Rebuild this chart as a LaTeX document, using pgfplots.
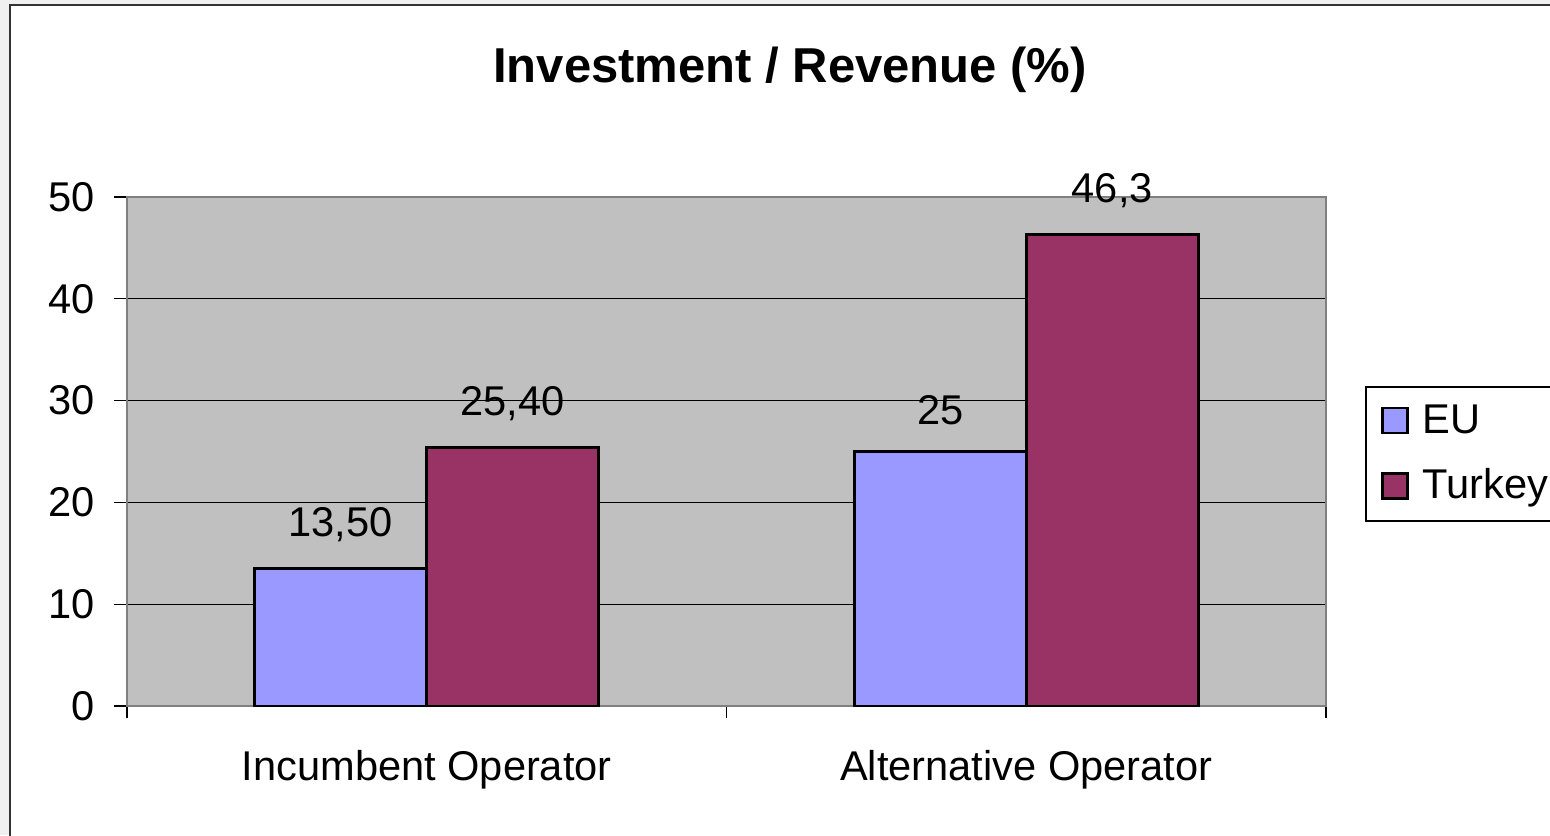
\documentclass[border=0pt]{standalone}
\usepackage{fontspec}
\setmainfont{Liberation Sans}
\usepackage{pgfplots}
\pgfplotsset{compat=1.18}
\definecolor{eu}{HTML}{9999FF}
\definecolor{tr}{HTML}{993366}
\definecolor{plotbg}{HTML}{C0C0C0}
\definecolor{axgray}{HTML}{808080}
\begin{document}
\begin{tikzpicture}[x=1pt,y=1pt]
\path[use as bounding box] (0,0) rectangle (775,417.5);
\fill[gray!12] (0,0) rectangle (5,417.5);
\fill[gray!12] (0,415) rectangle (775,417.5);
\draw[black!80, line width=1pt] (5,-5) -- (5,415) -- (790,415);
\node[font=\fontsize{24.5}{28}\selectfont\bfseries, anchor=base] at (395,376) {Investment / Revenue (\%)};
\begin{axis}[
  at={(63.5pt,64.5pt)}, anchor=south west,
  scale only axis, width=599.5pt, height=254.5pt,
  xmin=-0.5, xmax=1.5, ymin=0, ymax=50,
  ybar=0pt, bar width=86pt,
  xtick={0,1}, xticklabels={Incumbent Operator, Alternative Operator},
  minor xtick={-0.5,0.5,1.5},
  ytick={0,10,...,50},
  tick pos=left, tick align=outside,
  major tick length=6.5pt, minor tick length=6pt,
  tick style={black, line width=0.6pt},
  major x tick style={draw=none},
  ymajorgrids, grid style={black, line width=0.5pt},
  axis background/.style={fill=plotbg},
  axis line style={axgray, line width=1.25pt},
  /pgf/number format/assume math mode=true,
  ticklabel style={font=\fontsize{20.8}{24}\selectfont},
  yticklabel style={anchor=east, inner sep=0pt, xshift=-9.5pt},
  xticklabel style={anchor=north, inner sep=0pt, yshift=-15.5pt},
  clip=false,
  point meta=explicit symbolic,
  nodes near coords={\pgfplotspointmeta},
  every node near coord/.append style={font=\fontsize{20.8}{24}\selectfont, anchor=south, inner sep=0pt, yshift=12.5pt, black},
  legend style={at={(1.0325,0.6287)}, anchor=north west, draw=black, line width=1pt, fill=white,
    inner xsep=7.5pt, inner ysep=8pt, row sep=14.75pt, column sep=7pt,
    font=\fontsize{20.8}{24}\selectfont,
    nodes={inner sep=0pt, text height=15pt, text depth=3pt}},
  legend cell align=left,
  legend image code/.code={\draw[#1, line width=1.4pt] (0pt,-6pt) rectangle (12.5pt,6.5pt);},
]
\addplot[fill=eu, draw=black, line width=1.4pt] table[x=x, y=y, meta=lab, row sep=\\] {
x y lab\\
0 13.5 13,50\\
1 25 25\\
};
\addlegendentry{EU}
\addplot[fill=tr, draw=black, line width=1.4pt] table[x=x, y=y, meta=lab, row sep=\\] {
x y lab\\
0 25.4 25,40\\
1 46.3 46,3\\
};
\addlegendentry{Turkey}
\end{axis}
\end{tikzpicture}
\end{document}
